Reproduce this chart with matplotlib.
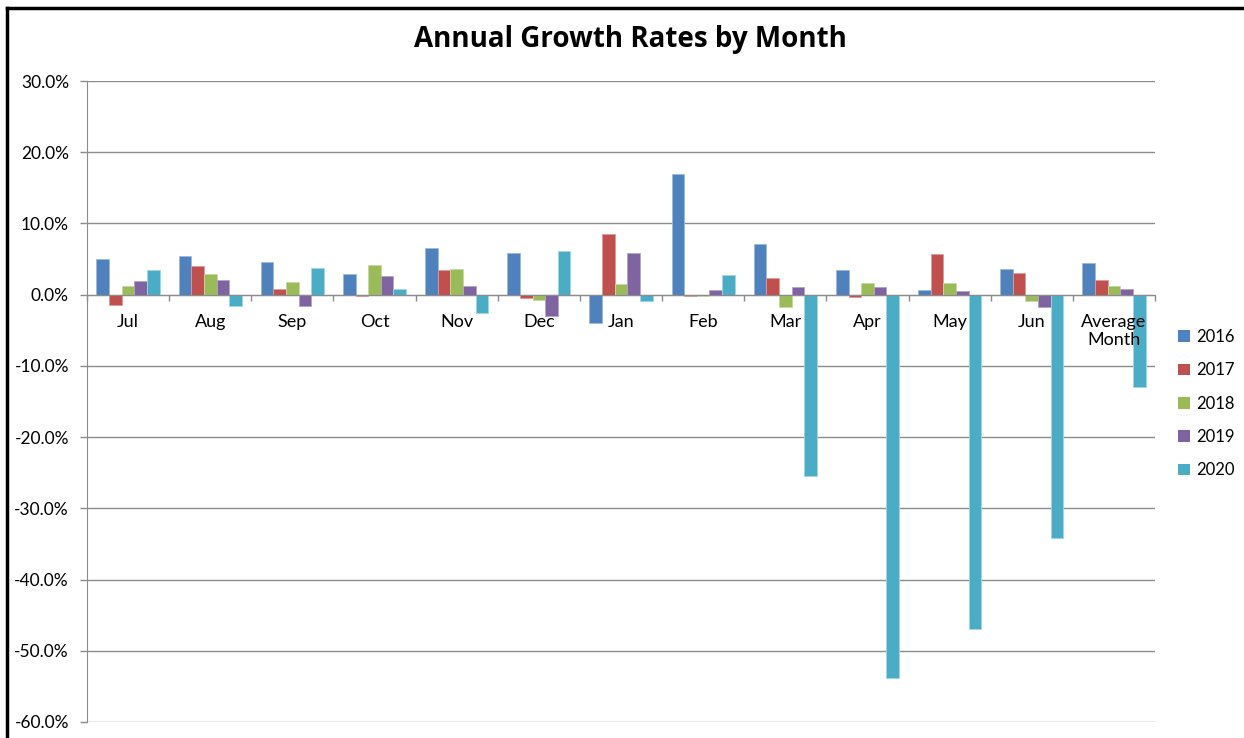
import numpy as np
import matplotlib.pyplot as plt
from matplotlib.patches import Patch
from matplotlib.lines import Line2D

# ── Data (growth rate, %) ─────────────────────────────────────
categories = ["Jul", "Aug", "Sep", "Oct", "Nov", "Dec", "Jan",
              "Feb", "Mar", "Apr", "May", "Jun", "Average\nMonth"]
years = ["2016", "2017", "2018", "2019", "2020"]

g2016 = [5.0, 5.4, 4.6, 2.85, 6.5, 5.9, -4.0, 16.9, 7.1, 3.4, 0.65, 3.6, 4.5]
g2017 = [-1.4, 4.0, 0.84, -0.2, 3.4, -0.5, 8.5, -0.2, 2.4, -0.3, 5.7, 3.0, 2.0]
g2018 = [1.26, 2.85, 1.82, 4.2, 3.6, -0.7, 1.45, -0.2, -1.7, 1.64, 1.64, -0.84, 1.2]
g2019 = [1.87, 2.06, -1.6, 2.6, 1.2, -3.0, 5.9, 0.65, 1.03, 1.03, 0.47, -1.8, 0.8]
g2020 = [3.4, -1.6, 3.8, 0.84, -2.6, 6.1, -0.9, 2.76, -25.4, -53.8, -47.0, -34.2, -13.0]

series = [g2016, g2017, g2018, g2019, g2020]
colors = ["#4F81BD", "#C0504D", "#9BBB59", "#8064A2", "#4BACC6"]
edges  = ["#9db8dc", "#dc9a98", "#c6d9a4", "#b4a3c9", "#a2d6e4"]

FONT = ["Lato", "DejaVu Sans"]
TITLE_FONT = ["Open Sans", "DejaVu Sans"]
GRID = "#8c8c8c"

# ── Figure ─────────────────────────────────────────────────────
fig = plt.figure(figsize=(12.44, 7.38), dpi=100)
fig.patch.set_facecolor("white")
ax = fig.add_axes([87 / 1244, 1 - 722 / 738, (1155 - 87) / 1244, (722 - 81) / 738])
ax.set_axisbelow(False)  # tick labels above bars, like Excel

yticks = np.arange(-60, 31, 10)
for yv in yticks:
    ax.axhline(yv, color=GRID, linewidth=1.0, zorder=1)

x = np.arange(len(categories))
w = 1 / 6.5
for i, (vals, c, ec, yr) in enumerate(zip(series, colors, edges, years)):
    ax.bar(x + (i - 2) * w, vals, width=w, color=c, edgecolor=ec,
           linewidth=0.6, label=yr, zorder=2)

ax.set_xlim(-0.5, len(categories) - 0.5)
ax.set_ylim(-60, 30)
ax.set_yticks(yticks)
ax.set_yticklabels([f"{v:.1f}%" for v in yticks], fontsize=12.5, family=FONT)
ax.tick_params(axis="y", length=5, color=GRID, width=1, pad=8)

# category axis at zero
ax.spines["bottom"].set_position(("data", 0))
ax.spines["bottom"].set_color(GRID)
ax.spines["bottom"].set_zorder(4)
ax.spines["left"].set_color(GRID)
ax.spines["top"].set_visible(False)
ax.spines["right"].set_visible(False)
ax.set_xticks(x)
ax.set_xticklabels(categories, fontsize=13, family=FONT, va="top",
                   linespacing=1.15)
ax.tick_params(axis="x", length=0, pad=14)
ax.set_xticks(np.arange(-0.5, len(categories), 1), minor=True)
ax.tick_params(axis="x", which="minor", length=4, color=GRID, width=1,
               direction="out")

fig.text(630 / 1244, 1 - 39 / 738, "Annual Growth Rates by Month",
         ha="center", va="center", fontsize=20, fontweight="bold",
         family=TITLE_FONT)

handles = [Patch(facecolor=c, edgecolor="none") for c in colors]
fig.legend(handles, years, loc="upper left",
           bbox_to_anchor=(1163 / 1244, 1 - 314 / 738), frameon=False,
           prop={"family": FONT, "size": 12}, handlelength=0.7,
           handleheight=0.7, handletextpad=0.4, labelspacing=1.04)

# outer chart frame (left and top edges visible)
fig.add_artist(Line2D([7 / 1244, 7 / 1244], [0, 1 - 8 / 738],
                      transform=fig.transFigure, color="black", lw=2.5))
fig.add_artist(Line2D([7 / 1244, 1], [1 - 8 / 738, 1 - 8 / 738],
                      transform=fig.transFigure, color="black", lw=2.5))

fig.savefig("out.png", dpi=100)
